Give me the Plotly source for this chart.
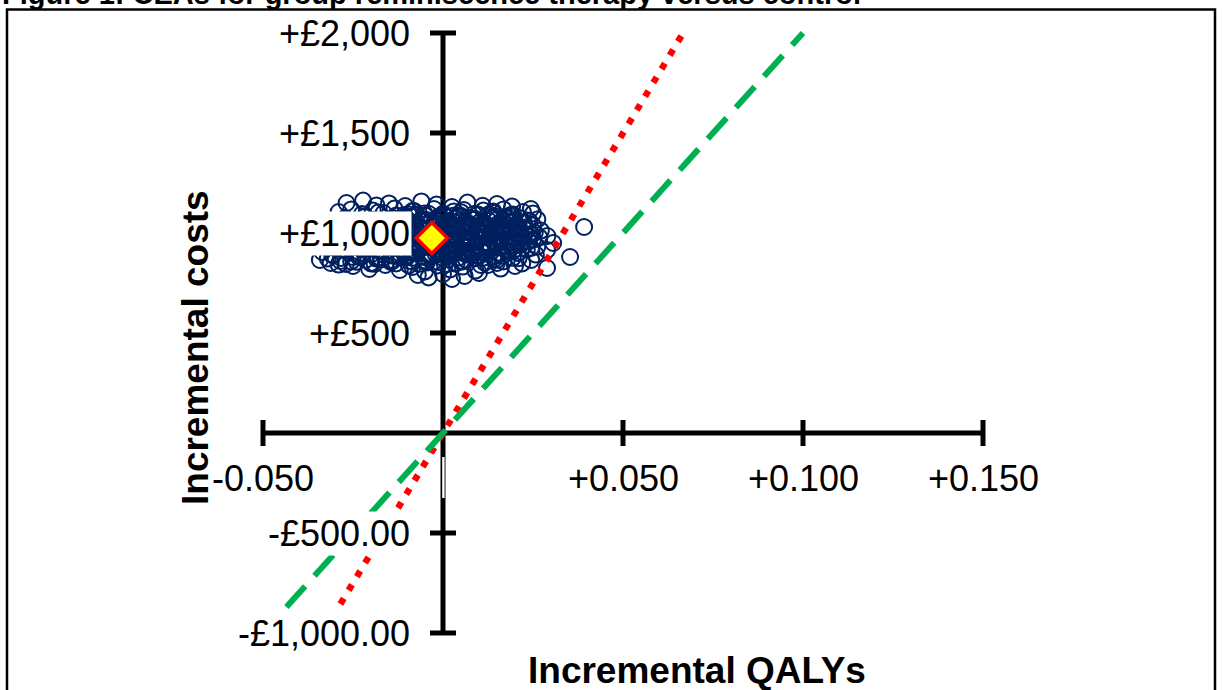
import plotly.graph_objects as go

# ---------------- data ----------------
title_text = "Figure 1: CEAs for group reminiscence therapy versus control"

x_ticks = [-0.05, 0.05, 0.10, 0.15]
x_tick_labels = ["-0.050", "+0.050", "+0.100", "+0.150"]
y_ticks = [2000, 1500, 1000, 500, -500, -1000]
y_tick_labels = ["+£2,000", "+£1,500", "+£1,000", "+£500", "-£500.00", "-£1,000.00"]

x_axis_range = [-0.05, 0.15]
y_axis_range = [-1000, 2000]

# bootstrapped incremental QALYs / costs
boot_qaly = [
    # top fringe
    -0.0268, -0.0222, -0.0185, -0.0150, -0.0105, -0.0060, -0.0018, 0.0025, 0.0068, 0.0110, 0.0150, 0.0192, 0.0244,
    # band B
    -0.0290, -0.0255, -0.0225, -0.0195, -0.0165, -0.0135, -0.0108, -0.0080, -0.0052, -0.0025, 0.0002, 0.0030,
    0.0058, 0.0085, 0.0112, 0.0140, 0.0168, 0.0195, 0.0222, 0.0250,
    # band C
    -0.0300, -0.0272, -0.0245, -0.0218, -0.0190, -0.0162, -0.0135, -0.0110, -0.0085, -0.0060, -0.0035, -0.0010,
    0.0015, 0.0040, 0.0065, 0.0090, 0.0115, 0.0140, 0.0165, 0.0190, 0.0215, 0.0240, 0.0262,
    # band D
    -0.0315, -0.0288, -0.0260, -0.0232, -0.0205, -0.0178, -0.0150, -0.0125, -0.0100, -0.0075, -0.0050, -0.0025,
    0.0000, 0.0025, 0.0050, 0.0075, 0.0100, 0.0125, 0.0150, 0.0175, 0.0200, 0.0225, 0.0250, 0.0272, 0.0392,
    # band E
    -0.0322, -0.0295, -0.0268, -0.0240, -0.0212, -0.0185, -0.0158, -0.0132, -0.0105, -0.0080, -0.0055, -0.0030,
    -0.0005, 0.0020, 0.0045, 0.0070, 0.0095, 0.0120, 0.0145, 0.0170, 0.0195, 0.0220, 0.0245, 0.0268, 0.0290,
    # band F
    -0.0330, -0.0302, -0.0275, -0.0248, -0.0220, -0.0192, -0.0165, -0.0138, -0.0112, -0.0087, -0.0062, -0.0037,
    -0.0012, 0.0013, 0.0038, 0.0063, 0.0088, 0.0113, 0.0138, 0.0163, 0.0188, 0.0213, 0.0238, 0.0262, 0.0306,
    # band G
    -0.0335, -0.0308, -0.0280, -0.0252, -0.0225, -0.0198, -0.0170, -0.0143, -0.0117, -0.0092, -0.0067, -0.0042,
    -0.0017, 0.0008, 0.0033, 0.0058, 0.0083, 0.0108, 0.0133, 0.0158, 0.0183, 0.0208, 0.0233, 0.0258, 0.0289, 0.0353,
    # band H
    -0.0342, -0.0312, -0.0283, -0.0255, -0.0228, -0.0200, -0.0172, -0.0145, -0.0118, -0.0092, -0.0066, -0.0040,
    -0.0014, 0.0012, 0.0038, 0.0064, 0.0090, 0.0116, 0.0142, 0.0168, 0.0194, 0.0220, 0.0245,
    # band I
    -0.0250, -0.0205, -0.0160, -0.0120, -0.0085, -0.0050, -0.0015, 0.0020, 0.0055, 0.0090, 0.0125, 0.0160, 0.0200, 0.0289,
    # bottom fringe
    -0.0070, -0.0040, 0.0000, 0.0025, 0.0060, 0.0100,
    # dense core
    -0.0122, -0.0072, -0.0022, 0.0028, 0.0078, 0.0128, 0.0178,
    -0.0138, -0.0088, -0.0038, 0.0012, 0.0062, 0.0112, 0.0162, 0.0205,
    -0.0145, -0.0095, -0.0045, 0.0005, 0.0055, 0.0105, 0.0155, 0.0200,
    -0.0130, -0.0080, -0.0030, 0.0020, 0.0070, 0.0120, 0.0170, 0.0215,
    -0.0120, -0.0070, -0.0020, 0.0030, 0.0080, 0.0130, 0.0180,
    -0.0100, -0.0050, 0.0000, 0.0050, 0.0100, 0.0150,
    -0.0180, -0.0130, -0.0085, -0.0040, 0.0005, 0.0050, 0.0095, 0.0140, 0.0185,
    -0.0200, -0.0155, -0.0110, -0.0062, -0.0015, 0.0032, 0.0080, 0.0128, 0.0175, 0.0225,
    -0.0215, -0.0168, -0.0120, -0.0072, -0.0025, 0.0022, 0.0068, 0.0115, 0.0162, 0.0208, 0.0255,
    -0.0225, -0.0178, -0.0128, -0.0078, -0.0030, 0.0018, 0.0065, 0.0112, 0.0160, 0.0205, 0.0250,
    -0.0230, -0.0182, -0.0132, -0.0085, -0.0035, 0.0012, 0.0060, 0.0108, 0.0155, 0.0200, 0.0245,
    -0.0235, -0.0185, -0.0135, -0.0085, -0.0035, 0.0015, 0.0065, 0.0115, 0.0165, 0.0210,
    -0.0290, -0.0240, -0.0190, -0.0140, -0.0095, -0.0045, 0.0005, 0.0055, 0.0105, 0.0150,
    -0.0105, -0.0058, -0.0012, 0.0035, 0.0082, 0.0130, 0.0175,
    -0.0112, -0.0065, -0.0018, 0.0028, 0.0075, 0.0122, 0.0168, 0.0212,
    -0.0118, -0.0070, -0.0022, 0.0026, 0.0074, 0.0122, 0.0170, 0.0218,
    -0.0115, -0.0068, -0.0020, 0.0028, 0.0076, 0.0124, 0.0172, 0.0220,
    -0.0110, -0.0062, -0.0014, 0.0034, 0.0082, 0.0130, 0.0178,
    -0.0100, -0.0052, -0.0004, 0.0044, 0.0092, 0.0140,
    -0.0320, -0.0285, -0.0250, -0.0215, -0.0180, -0.0145,
    -0.0095, -0.0048, 0.0000, 0.0048, 0.0096, 0.0144, 0.0190,
    -0.0090, -0.0042, 0.0006, 0.0054, 0.0102, 0.0150, 0.0198, 0.0235,
    -0.0095, -0.0047, 0.0001, 0.0049, 0.0097, 0.0145, 0.0193, 0.0235,
    -0.0092, -0.0044, 0.0004, 0.0052, 0.0100, 0.0148, 0.0196, 0.0240,
    -0.0088, -0.0040, 0.0008, 0.0056, 0.0104, 0.0152, 0.0198,
    -0.0080, -0.0032, 0.0016, 0.0064, 0.0112, 0.0160,
    -0.0305, -0.0270, -0.0235, -0.0200, -0.0165, -0.0130,
]
boot_cost = [
    1150, 1162, 1138, 1148, 1135, 1158, 1142, 1130, 1152, 1136, 1145, 1132, 1120,
    1105, 1118, 1095, 1112, 1100, 1122, 1090, 1110, 1098, 1120, 1092, 1108,
    1115, 1095, 1112, 1100, 1118, 1092, 1105, 1098,
    1060, 1075, 1052, 1080, 1065, 1048, 1072, 1058, 1082, 1062, 1050, 1076,
    1060, 1085, 1055, 1070, 1048, 1078, 1062, 1052, 1074, 1060, 1068,
    1025, 1010, 1038, 1020, 1042, 1015, 1030, 1008, 1036, 1022, 1044, 1012,
    1028, 1040, 1018, 1034, 1010, 1026, 1042, 1016, 1032, 1020, 1038, 1012, 1030,
    985, 1000, 972, 992, 980, 1002, 968, 988, 975, 998, 970, 990,
    1004, 978, 995, 966, 985, 1000, 974, 992, 980, 970, 995, 978, 985,
    945, 930, 958, 940, 962, 935, 950, 928, 955, 942, 964, 932,
    948, 960, 938, 952, 930, 945, 962, 936, 950, 940, 958, 932, 950,
    905, 890, 918, 900, 922, 895, 910, 888, 915, 902, 924, 892,
    908, 920, 898, 912, 890, 905, 922, 896, 910, 900, 918, 892, 915, 880,
    865, 850, 875, 858, 880, 848, 868, 855, 878, 860, 846, 872,
    856, 882, 850, 866, 874, 852, 870, 858, 876, 848, 865,
    835, 820, 840, 815, 830, 808, 838, 818, 832, 812, 840, 822, 835, 825,
    790, 778, 795, 770, 785, 800,
    1068, 1090, 1064, 1086, 1072, 1094, 1080,
    1030, 1050, 1020, 1046, 1026, 1052, 1022, 1040,
    992, 1010, 978, 1006, 984, 1012, 988, 1000,
    952, 936, 960, 942, 966, 940, 956, 945,
    898, 918, 894, 914, 900, 920, 906,
    880, 862, 876, 858, 884, 866,
    1102, 1088, 1110, 1096, 1084, 1104, 1090, 1108, 1086,
    1046, 1058, 1038, 1062, 1040, 1054, 1036, 1060, 1044, 1050,
    1004, 990, 1012, 996, 1008, 992, 1014, 998, 1006, 994, 1002,
    966, 952, 972, 958, 970, 954, 968, 950, 964, 958, 968,
    926, 914, 930, 918, 932, 912, 928, 916, 934, 920, 926,
    884, 872, 890, 876, 888, 870, 892, 878, 886, 874,
    842, 856, 846, 860, 838, 852, 844, 858, 840, 850,
    1078, 1070, 1082, 1074, 1066, 1080, 1072,
    1034, 1028, 1040, 1032, 1044, 1030, 1038, 1026,
    994, 1000, 988, 996, 1002, 990, 998, 992,
    956, 948, 962, 950, 958, 946, 960, 952,
    912, 920, 908, 918, 910, 922, 914,
    888, 880, 892, 878, 886, 882,
    872, 860, 880, 866, 876, 862,
    1092, 1086, 1096, 1088, 1094, 1084, 1090,
    1056, 1064, 1052, 1060, 1054, 1066, 1058, 1062,
    1016, 1022, 1010, 1018, 1024, 1012, 1020, 1014,
    978, 972, 982, 976, 970, 984, 974, 980,
    936, 942, 930, 940, 934, 944, 938,
    902, 896, 906, 898, 904, 900,
    890, 845, 895, 850, 892, 848,
]

mean_qaly = [-0.0031]
mean_cost = [975]

# willingness-to-pay threshold lines (£30,000 and £20,000 per QALY)
wtp30_qaly = [-0.0285, 0.0667]
wtp30_cost = [-855, 2000]
wtp20_qaly = [-0.0435, 0.1000]
wtp20_cost = [-870, 2000]

# ---------------- pixel mapping helpers ----------------
W, H = 1222, 690
X0_PX, Y0_PX = 443.0, 433.0       # pixel position of origin
PX_PER_Q = 3600.0                 # pixels per QALY
PX_PER_C = 0.2                    # pixels per £


def qx(px):
    return (px - X0_PX) / PX_PER_Q


def cy(py):
    return (Y0_PX - py) / PX_PER_C


fig = go.Figure()

NAVY = "#002060"
fig.add_trace(go.Scatter(
    x=boot_qaly, y=boot_cost, mode="markers",
    marker=dict(symbol="circle-open", size=16, color=NAVY, line=dict(width=2.0, color=NAVY)),
    hoverinfo="skip", showlegend=False, cliponaxis=False,
))
fig.add_trace(go.Scatter(
    x=wtp30_qaly, y=wtp30_cost, mode="lines",
    line=dict(color="#FF0000", width=6.5, dash="6.5px,9.5px"),
    hoverinfo="skip", showlegend=False,
))
fig.add_trace(go.Scatter(
    x=wtp20_qaly, y=wtp20_cost, mode="lines",
    line=dict(color="#00B050", width=6, dash="28px,14px"),
    hoverinfo="skip", showlegend=False,
))
fig.add_trace(go.Scatter(
    x=mean_qaly, y=mean_cost, mode="markers",
    marker=dict(symbol="diamond", size=24, color="#FFFF00", line=dict(width=3.5, color="#FF0000")),
    hoverinfo="skip", showlegend=False,
))

shapes = []
# outer frame
shapes.append(dict(type="rect", xref="x", yref="y", x0=qx(7), x1=qx(1215), y0=cy(720), y1=cy(9.5),
                   line=dict(color="black", width=2.5), fillcolor="rgba(0,0,0,0)", layer="below"))
# axes
AX_W = 5
shapes.append(dict(type="line", xref="x", yref="y", x0=x_axis_range[0], x1=x_axis_range[1], y0=0, y1=0,
                   line=dict(color="black", width=AX_W), layer="below"))
shapes.append(dict(type="line", xref="x", yref="y", x0=0, x1=0, y0=y_axis_range[0], y1=y_axis_range[1],
                   line=dict(color="black", width=AX_W), layer="below"))
tick_half_px = 13
for t in x_ticks:
    shapes.append(dict(type="line", xref="x", yref="y", x0=t, x1=t,
                       y0=-tick_half_px / PX_PER_C, y1=tick_half_px / PX_PER_C,
                       line=dict(color="black", width=AX_W), layer="below"))
for t in y_ticks:
    shapes.append(dict(type="line", xref="x", yref="y", x0=-tick_half_px / PX_PER_Q, x1=tick_half_px / PX_PER_Q,
                       y0=t, y1=t, line=dict(color="black", width=AX_W), layer="below"))
# empty label box for the hidden 0 category label
shapes.append(dict(type="rect", xref="x", yref="y", x0=qx(442.2), x1=qx(444.6), y0=cy(498), y1=cy(457),
                   line=dict(width=0), fillcolor="white", layer="below"))

annotations = []
FONT = "Arial, Liberation Sans, sans-serif"
for t, lab in zip(x_ticks, x_tick_labels):
    annotations.append(dict(x=t, y=cy(478), xref="x", yref="y", text=lab, showarrow=False,
                            xanchor="center", yanchor="middle", bgcolor="white",
                            font=dict(family=FONT, size=36, color="black")))
for t, lab in zip(y_ticks, y_tick_labels):
    annotations.append(dict(x=qx(412), y=t, xref="x", yref="y", text=lab, showarrow=False,
                            xanchor="right", yanchor="middle", bgcolor="white", borderpad=1,
                            font=dict(family=FONT, size=36, color="black")))
annotations.append(dict(x=qx(195), y=cy(348), xref="x", yref="y", text="<b>Incremental costs</b>",
                        showarrow=False, textangle=-90, xanchor="center", yanchor="middle",
                        font=dict(family=FONT, size=37, color="black")))
annotations.append(dict(x=qx(697), y=cy(670), xref="x", yref="y", text="<b>Incremental QALYs</b>",
                        showarrow=False, xanchor="center", yanchor="middle",
                        font=dict(family=FONT, size=37, color="black")))
# figure caption, cut off by the top of the page as in the reference
annotations.append(dict(x=0, y=1 - 12 / H, xref="paper", yref="paper", text="<b>" + title_text + "</b>",
                        showarrow=False, xanchor="left", yanchor="bottom",
                        font=dict(family=FONT, size=29, color="black")))

fig.update_layout(
    width=W, height=H,
    margin=dict(l=0, r=0, t=0, b=0),
    paper_bgcolor="white", plot_bgcolor="white",
    xaxis=dict(range=[qx(0), qx(W)], visible=False, fixedrange=True),
    yaxis=dict(range=[cy(H), cy(0)], visible=False, fixedrange=True),
    shapes=shapes, annotations=annotations, showlegend=False,
)

fig.write_html("out.html")
